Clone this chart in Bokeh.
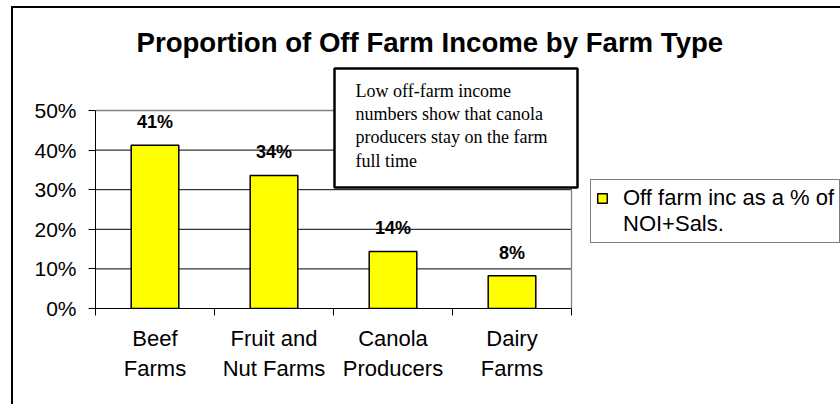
from bokeh.plotting import figure
from bokeh.models import (Range1d, LinearAxis, FixedTicker, NumeralTickFormatter, InlineStyleSheet,
                          BoxAnnotation, Label, LabelSet, ColumnDataSource, Legend, LegendItem)
from bokeh.core.properties import value
from bokeh.embed import file_html
from bokeh.resources import INLINE

# ---- data ----
categories = ["Beef\nFarms", "Fruit and\nNut Farms", "Canola\nProducers", "Dairy\nFarms"]
off_farm_share = [0.412, 0.336, 0.144, 0.083]
y_ticks = [0.0, 0.1, 0.2, 0.3, 0.4, 0.5]
series_name_lines = ["Off farm inc as a % of", "NOI+Sals."]
title_text = "Proportion of Off Farm Income by Farm Type"
note_text = "Low off-farm income\nnumbers show that canola\nproducers stay on the farm\nfull time"

n = len(categories)
slot_center = [i + 0.5 for i in range(n)]   # category slots on a 0..n axis
slot_edges = list(range(n + 1))
value_labels = [f"{v:.0%}" for v in off_farm_share]
src = ColumnDataSource(dict(x=slot_center, share=off_farm_share, lab=value_labels))

SANS = "Liberation Sans"

# layout geometry (pixels): plot area 95..571 x 110..308 inside an 840x404 canvas
W, H = 840, 404
PA_LEFT, PA_RIGHT, PA_TOP, PA_BOTTOM = 95, 571, 110, 308
Y_MAX = y_ticks[-1]
x_end = n * (W - PA_LEFT) / (PA_RIGHT - PA_LEFT)
y_end = Y_MAX * PA_BOTTOM / (PA_BOTTOM - PA_TOP)

css = InlineStyleSheet(css=""":host {
  background-color: white;
  background-image: linear-gradient(black, black), linear-gradient(black, black);
  background-size: 2px 100%, 100% 2px;
  background-position: 11px 6px, 11px 6px;
  background-repeat: no-repeat;
}""")

p = figure(width=W, height=H, x_range=Range1d(0, x_end), y_range=Range1d(0, y_end),
           output_backend="svg", toolbar_location=None,
           x_axis_location=None, y_axis_location=None,
           min_border_left=PA_LEFT, min_border_right=0, min_border_top=0,
           min_border_bottom=H - PA_BOTTOM, stylesheets=[css])
p.outline_line_color = None
p.background_fill_alpha = 0
p.border_fill_alpha = 0
p.grid.visible = False

# y axis
yaxis = LinearAxis(ticker=FixedTicker(ticks=y_ticks), formatter=NumeralTickFormatter(format="0%"),
                   bounds=(0, Y_MAX),
                   major_tick_out=7, major_tick_in=0, minor_tick_line_color=None,
                   major_label_standoff=12, axis_line_color="black", axis_line_width=1,
                   major_tick_line_color="black",
                   major_label_text_font=SANS, major_label_text_font_size="21px",
                   major_label_text_color="black")
p.add_layout(yaxis, "left")

# x axis: ticks at category edges, labels at slot centres
edge_axis = LinearAxis(ticker=FixedTicker(ticks=slot_edges), bounds=(0, n),
                       major_label_overrides={e: "" for e in slot_edges}, major_label_standoff=0,
                       major_tick_out=7, major_tick_in=0, minor_tick_line_color=None,
                       axis_line_color="black", major_tick_line_color="black")
p.add_layout(edge_axis, "below")
cat_axis = LinearAxis(ticker=FixedTicker(ticks=slot_center),
                      major_label_overrides={c: lab for c, lab in zip(slot_center, categories)},
                      axis_line_color=None, major_tick_line_color=None, minor_tick_line_color=None,
                      major_label_standoff=4, major_label_text_font=SANS,
                      major_label_text_font_size="22px", major_label_text_color="black")
p.add_layout(cat_axis, "below")

# gridlines (black) and plot-area border (grey) limited to the plot area
inner = y_ticks[1:-1]
p.segment(x0=[0] * len(inner), x1=[n] * len(inner), y0=inner, y1=inner,
          line_color="black", line_width=1)
p.segment(x0=[0, n], x1=[n, n], y0=[Y_MAX, 0], y1=[Y_MAX, Y_MAX],
          line_color="#808080", line_width=1.3)

# bars
bars = p.vbar(x="x", top="share", width=0.4, source=src, fill_color="#FFFF00",
              line_color="black", line_width=1.5)
# invisible stand-in so the series name's second line sits under the first
blank = p.vbar(x=[], top=[], width=0.4, fill_alpha=0, line_alpha=0)

# value labels
p.add_layout(LabelSet(x="x", y="share", text="lab", source=src, y_offset=17,
                      text_align="center", text_baseline="alphabetic",
                      text_font=value(SANS), text_font_size=value("18px"),
                      text_font_style="bold", text_color="black"))

# title
p.add_layout(Label(x=136, y=42, x_units="canvas", y_units="canvas", text=title_text,
                   text_font=SANS, text_font_size="27.6px", text_font_style="bold",
                   text_baseline="alphabetic", text_align="left", text_color="black"))

# legend
legend = Legend(items=[LegendItem(label=series_name_lines[0], renderers=[bars]),
                       LegendItem(label=series_name_lines[1], renderers=[blank])],
                location=(590 - PA_LEFT, PA_BOTTOM - 243), border_line_color="black",
                border_line_width=1, background_fill_color="white", background_fill_alpha=1,
                label_text_font=SANS, label_text_font_size="22px", label_text_color="black",
                label_text_line_height=1.0, label_height=20, glyph_width=12, glyph_height=12,
                label_standoff=15, padding=5, spacing=0, margin=0)
p.add_layout(legend, "center")

# note box
p.add_layout(BoxAnnotation(left=334, right=577, top=68, bottom=187,
                           left_units="canvas", right_units="canvas",
                           top_units="canvas", bottom_units="canvas",
                           fill_color="white", fill_alpha=1, line_color="black",
                           line_alpha=1, line_width=2.5))
p.add_layout(Label(x=355, y=80, x_units="canvas", y_units="canvas", text=note_text,
                   text_font="Liberation Serif", text_font_size="18px", text_baseline="top",
                   text_align="left", text_line_height=1.17, text_color="black"))

open("out.html", "w").write(file_html(p, INLINE))
